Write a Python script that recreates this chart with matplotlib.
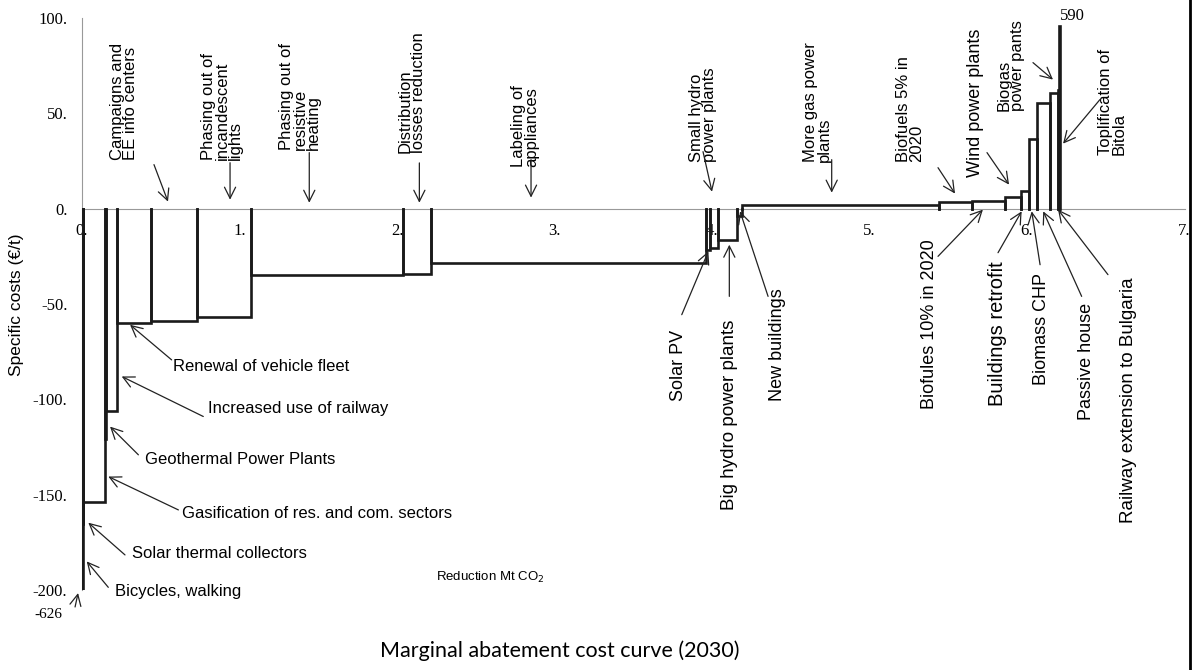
import numpy as np
import matplotlib.pyplot as plt
from matplotlib.lines import Line2D

# Measures sorted by specific cost (MAC curve, 2030)
measures = ['Bicycles, walking', 'Solar thermal collectors',
            'Gasification of res. and com. sectors', 'Geothermal Power Plants',
            'Increased use of railway', 'Renewal of vehicle fleet',
            'Campaigns and EE info centers', 'Phasing out of incandescent lights',
            'Phasing out of resistive heating', 'Distribution losses reduction',
            'Labeling of appliances', 'Solar PV', 'Small hydro power plants',
            'Big hydro power plants', 'New buildings', 'More gas power plants',
            'Biofuels 5% in 2020', 'Biofules 10% in 2020', 'Wind power plants',
            'Buildings retrofit', 'Biomass CHP', 'Passive house',
            'Biogas power pants', 'Railway extension to Bulgaria',
            'Toplification of Bitola']
# reduction (Mt CO2)
widths = [0.004, 0.004, 0.138, 0.004, 0.074, 0.212, 0.296, 0.343, 0.963, 0.176,
          1.745, 0.028, 0.053, 0.121, 0.028, 1.254, 0.210, 0.207, 0.102, 0.051,
          0.049, 0.084, 0.053, 0.004, 0.004]
# specific cost (EUR/t)
costs = [-626, -166, -154, -121, -106, -60, -59, -57, -35, -34.5,
         -28.5, -21.5, -20.6, -16.3, -4, 1.7, 3.5, 3.8, 6.1, 9.1,
         36.6, 55.5, 60.7, 62, 590]

x_ticks = [0, 1, 2, 3, 4, 5, 6, 7]
x_tick_labels = ['0.', '1.', '2.', '3.', '4.', '5.', '6.', '7.']
y_ticks = [-200, -150, -100, -50, 0, 50, 100]
y_tick_labels = ['-200.', '-150.', '-100.', '-50.', '0.', '50.', '100.']

# labels above the axis: text, text pos (center, bottom), arrow tail, arrow head
top_labels = [
    ('Campaigns and\nEE info centers', (0.267, 25.7), (0.457, 23.1), (0.546, 3.7)),
    ('Phasing out of\nincandescent\nlights', (0.889, 25.7), (0.94, 24.1), (0.94, 4.7)),
    ('Phasing out of\nresistive\nheating', (1.384, 31), (1.443, 29.4), (1.443, 3.1)),
    ('Distribution\nlosses reduction', (2.092, 29.2), (2.142, 24), (2.142, 3.1)),
    ('Labeling of\nappliances', (2.813, 22), (2.851, 25.7), (2.851, 5.8)),
    ('Small hydro\npower plants', (3.943, 24.7), (3.943, 29.9), (4.0, 8.9)),
    ('More gas power\nplants', (4.67, 24.7), (4.76, 25.7), (4.76, 8.4)),
    ('Biofuels 5% in\n2020', (5.257, 24.7), (5.435, 21.5), (5.543, 7.9)),
    ('Wind power plants', (5.67, 16.8), (5.746, 29.4), (5.886, 12.6)),
    ('Biogas\npower pants', (5.898, 51), (6.038, 76.6), (6.165, 67.7)),
    ('Toplification of\nBitola', (6.543, 28.3), (6.463, 57.2), (6.229, 34.1)),
]
# labels below the axis (rotated): text, text pos (center, top), tail, head
bottom_labels = [
    ('Solar PV', (3.787, -63.5), (3.808, -55.6), (3.977, -22.4)),
    ('Big hydro power plants', (4.114, -58.3), (4.11, -46), (4.11, -18.9)),
    ('New buildings', (4.416, -41.5), (4.356, -46), (4.178, -1.4)),
    ('Biofules 10% in 2020', (5.384, -15.9), (5.435, -25), (5.72, -0.5)),
    ('Buildings retrofit', (5.81, -27.6), (5.816, -23.1), (5.966, -1.4)),
    ('Biomass CHP', (6.092, -33.6), (6.083, -29.4), (6.03, -1.4)),
    ('Passive house', (6.378, -49.3), (6.347, -46), (6.103, -1.4)),
    ('Railway extension to Bulgaria', (6.644, -36.2), (6.514, -34.6), (6.197, -0.5)),
]
# horizontal labels on the left: text, text pos (left, center), tail, head
side_labels = [
    ('Renewal of vehicle fleet', (0.576, -82.8), (0.569, -79.3), (0.305, -60.9)),
    ('Increased use of railway', (0.802, -104.6), (0.77, -109), (0.252, -88)),
    ('Geothermal Power Plants', (0.40, -131.8), (0.358, -129.1), (0.178, -114.3)),
    ('Gasification of res. and com. sectors', (0.633, -159.7), (0.612, -158), (0.167, -140.5)),
    ('Solar thermal collectors', (0.316, -181.1), (0.273, -181.6), (0.04, -164.7)),
    ('Bicycles, walking', (0.21, -200.9), (0.167, -198.6), (0.03, -185)),
]

sans = 'Liberation Sans'
serif = 'Liberation Serif'

fig = plt.figure(figsize=(11.97, 6.70), dpi=100)
ax = fig.add_axes([82/1197, 1 - 590/670, 1102.5/1197, 572/670])
ax.set_xlim(0, 7)
ax.set_ylim(-200, 100)

right = np.cumsum(widths)
left = right - np.array(widths)
shown = np.minimum(costs, 96)
for x0, x1, c in zip(left, right, shown):
    ax.plot([x0, x0, x1, x1], [0, c, c, 0], color='#1a1a1a', lw=1.9,
            solid_joinstyle='miter', zorder=3)

for s in ['top', 'right']:
    ax.spines[s].set_visible(False)
ax.spines['bottom'].set_position(('data', 0))
ax.spines['bottom'].set_color('#999999')
ax.spines['left'].set_color('#999999')
ax.spines['left'].set_bounds(-200, 100)

ax.set_xticks(x_ticks)
ax.set_xticklabels(x_tick_labels, family=serif, fontsize=12)
ax.set_yticks(y_ticks)
ax.set_yticklabels(y_tick_labels, family=serif, fontsize=12)
ax.tick_params(axis='x', length=0, pad=10.5)
ax.tick_params(axis='y', length=0, pad=10.5)

arrow = dict(arrowstyle='->', lw=0.9, color='#222222', shrinkA=0, shrinkB=0,
             mutation_scale=20)

for txt, (tx, ty), tail, head in top_labels:
    fs = 13 if txt == 'Wind power plants' else 12
    ax.text(tx, ty, txt, rotation=90, ha='center', va='bottom', family=sans,
            fontsize=fs, linespacing=0.85, multialignment='left')
    ax.annotate('', xy=head, xytext=tail, arrowprops=arrow)

bottom_sizes = {'Buildings retrofit': 14.5, 'Big hydro power plants': 13.5,
                'Railway extension to Bulgaria': 13.5}
for txt, (tx, ty), tail, head in bottom_labels:
    ax.text(tx, ty, txt, rotation=90, ha='center', va='top', family=sans,
            fontsize=bottom_sizes.get(txt, 13))
    ax.annotate('', xy=head, xytext=tail, arrowprops=arrow)

for txt, (tx, ty), tail, head in side_labels:
    ax.text(tx, ty, txt, ha='left', va='center', family=sans, fontsize=12)
    ax.annotate('', xy=head, xytext=tail, arrowprops=arrow)

# out-of-range values
ax.annotate('', xy=(-0.025, -201.6), xytext=(-0.044, -208.9), arrowprops=arrow,
            annotation_clip=False)
ax.text(-0.213, -213, '-626', ha='center', va='center', family=serif,
        fontsize=11, clip_on=False)
ax.text(6.21, 101, '590', ha='left', va='center', family=serif, fontsize=12,
        clip_on=False)

fig.text(17/1197, 1 - 305/670, 'Specific costs (€/t)', rotation=90,
         ha='center', va='center', family=sans, fontsize=12.5)
fig.text(490/1197, 1 - 577/670, 'Reduction Mt CO$_2$', ha='center',
         va='center', family=sans, fontsize=9.5)
fig.text(560/1197, 1 - 651/670, 'Marginal abatement cost curve (2030)',
         ha='center', va='center', family='Lato', fontsize=15.5)

fig.add_artist(Line2D([1190/1197, 1190/1197], [0, 1], color='black', lw=2,
                      transform=fig.transFigure))

fig.savefig('out.png', dpi=100)
